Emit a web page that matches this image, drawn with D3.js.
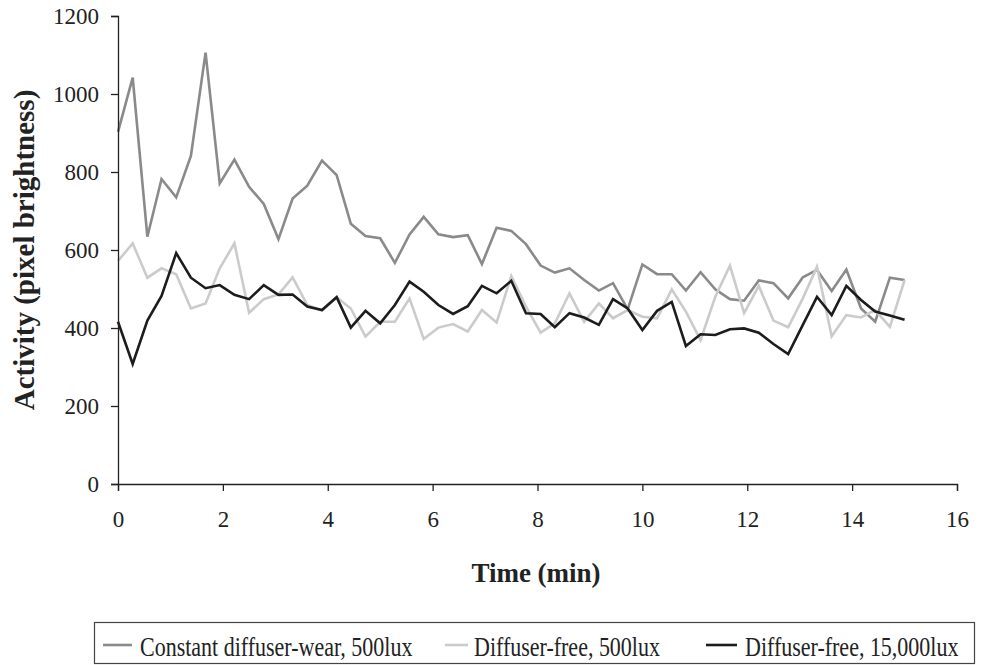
<!DOCTYPE html>
<html><head><meta charset="utf-8">
<script src="https://cdn.jsdelivr.net/npm/d3@7"></script>
<style>body{margin:0;background:#fff}svg{display:block}</style>
</head><body>
<script>
const times = [0,0.28,0.56,0.83,1.11,1.39,1.67,1.94,2.22,2.5,2.78,3.06,3.33,3.61,3.89,4.17,4.44,4.72,5,5.28,5.56,5.83,6.11,6.39,6.67,6.94,7.22,7.5,7.78,8.06,8.33,8.61,8.89,9.17,9.44,9.72,10,10.28,10.56,10.83,11.11,11.39,11.67,11.94,12.22,12.5,12.78,13.06,13.33,13.61,13.89,14.17,14.44,14.72,15];
const constantWear = [903,1042,634,782,735,841,1106,771,832,762,718,628,732,765,829,792,667,636,630,567,640,685,640,633,638,564,657,649,615,560,542,553,523,496,515,448,563,538,538,496,543,499,474,470,522,515,476,530,549,495,550,450,416,529,523];
const free500 = [572,617,529,553,538,450,463,553,617,439,474,486,530,459,445,479,450,378,416,416,476,372,401,410,391,446,414,533,455,388,412,489,416,463,425,446,429,425,499,442,369,480,560,438,508,419,402,476,557,379,433,427,446,403,523];
const free15000 = [416,308,419,482,592,529,502,510,485,474,510,485,486,455,446,479,401,444,412,459,519,493,459,436,456,508,489,521,438,436,402,438,427,408,474,450,395,444,467,354,384,382,397,399,388,359,333,408,480,433,508,472,442,432,421];
const seriesNames = ["Constant diffuser-wear, 500lux","Diffuser-free, 500lux","Diffuser-free, 15,000lux"];
const xTicks = [0,2,4,6,8,10,12,14,16];
const yTicks = [0,200,400,600,800,1000,1200];

const W=985,H=665;
const svg=d3.select("body").append("svg").attr("width",W).attr("height",H);
const x=d3.scaleLinear().domain([0,16]).range([118,957]);
const y=d3.scaleLinear().domain([0,1200]).range([484,16]);
const font="'Liberation Serif','Times New Roman',serif";

const series=[
 {name:seriesNames[0],vals:constantWear,color:"#8a8a8a"},
 {name:seriesNames[1],vals:free500,color:"#cbcbcb"},
 {name:seriesNames[2],vals:free15000,color:"#1c1c1c"}
];
const line=d3.line().x(d=>x(d[0])).y(d=>y(d[1]));
series.forEach(s=>{
 svg.append("path").datum(times.map((t,i)=>[t,s.vals[i]]))
  .attr("d",line).attr("fill","none").attr("stroke",s.color)
  .attr("stroke-width",2.6).attr("stroke-linejoin","miter");
});

const gx=svg.append("g").attr("transform","translate(0,484)")
 .call(d3.axisBottom(x).tickValues(xTicks).tickSize(7).tickPadding(20).tickFormat(d3.format("d")));
const gy=svg.append("g").attr("transform","translate(118,0)")
 .call(d3.axisLeft(y).tickValues(yTicks).tickSize(7).tickPadding(12).tickFormat(d3.format("d")));
[gx,gy].forEach(g=>{
 g.select(".domain").attr("stroke","#222").attr("stroke-width",1.3);
 g.selectAll(".tick line").attr("stroke","#222").attr("stroke-width",1.3);
 g.selectAll("text").attr("font-family",font).attr("font-size",23).attr("fill","#222");
});

svg.append("text").attr("x",536).attr("y",582).attr("text-anchor","middle")
 .attr("font-family",font).attr("font-weight","bold").attr("font-size",27).attr("fill","#222").text("Time (min)");
svg.append("text").attr("transform","translate(34,250) rotate(-90)").attr("text-anchor","middle")
 .attr("font-family",font).attr("font-weight","bold").attr("font-size",29).attr("fill","#222").text("Activity (pixel brightness)");

svg.append("rect").attr("x",94.5).attr("y",622.5).attr("width",880).attr("height",41)
 .attr("fill","none").attr("stroke","#444").attr("stroke-width",1.2);
const legX=[[103,132,140],[445,468,474],[706,737,745]];
series.forEach((s,i)=>{
 svg.append("line").attr("x1",legX[i][0]).attr("x2",legX[i][1]).attr("y1",645).attr("y2",645)
  .attr("stroke",s.color).attr("stroke-width",2.6);
 svg.append("text").attr("transform",`translate(${legX[i][2]},656) scale(1,1.2)`)
  .attr("font-family",font).attr("font-size",22)
  .attr("fill","#222").text(s.name);
});
</script>
</body></html>
